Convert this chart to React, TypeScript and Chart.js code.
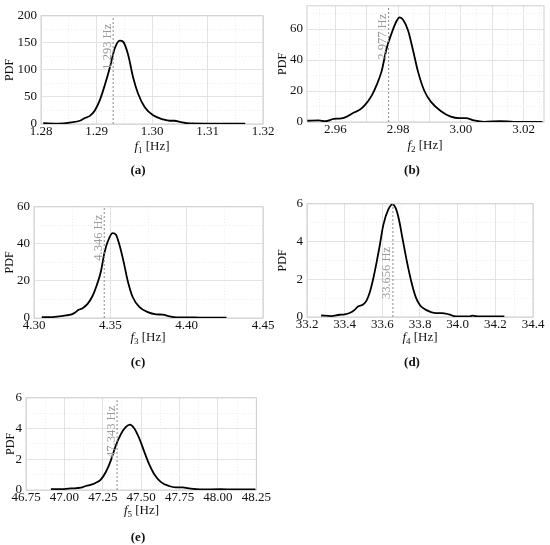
import React, { useEffect, useRef } from 'react';
import { Chart, registerables } from 'chart.js';

Chart.register(...registerables);

const FONT = "'Liberation Serif', 'Times New Roman', serif";

// ---------- (a) f1 ----------
const freqA = [1.2804, 1.2831, 1.2855, 1.287, 1.2879, 1.2888, 1.2897, 1.2906, 1.2915, 1.2924, 1.2933, 1.2942, 1.2948, 1.2957, 1.2966, 1.2975, 1.2987, 1.3002, 1.302, 1.3033, 1.3041, 1.305, 1.3068, 1.31, 1.3168];
const pdfA = [1.5, 0.8, 3, 6, 11, 15, 25, 44, 72, 104, 140, 154, 152, 128, 86, 56, 31, 16, 8.5, 6, 6, 4, 1, 0.8, 0.5];
const xLabelsA = ['1.28', '1.29', '1.30', '1.31', '1.32'];
const yLabelsA = ['0', '50', '100', '150', '200'];
const markerA = 1.293;

// ---------- (b) f2 ----------
const freqB = [2.9511, 2.9547, 2.9569, 2.9595, 2.962, 2.9637, 2.9658, 2.9679, 2.9695, 2.9716, 2.9732, 2.9748, 2.9763, 2.9779, 2.9795, 2.9805, 2.9816, 2.9832, 2.9847, 2.9863, 2.9884, 2.9905, 2.9937, 2.9968, 2.9995, 3.0016, 3.0042, 3.0074, 3.0126, 3.0168, 3.026];
const pdfB = [0.8, 1, 0.5, 2, 2.3, 3.5, 6, 8, 11, 17, 24, 33, 47, 57, 65, 67.5, 66, 59, 47, 33, 20, 13, 7, 3.5, 2.5, 2.5, 1, 0.1, 0.6, 0.1, 0];
const xLabelsB = ['2.96', '2.98', '3.00', '3.02'];
const yLabelsB = ['0', '20', '40', '60'];
const markerB = 2.977;

// ---------- (c) f3 ----------
const freqC = [4.3051, 4.312, 4.3164, 4.3208, 4.3241, 4.327, 4.3292, 4.3318, 4.3351, 4.3384, 4.341, 4.3439, 4.3461, 4.3482, 4.3515, 4.3537, 4.3559, 4.3586, 4.3614, 4.3647, 4.3691, 4.3745, 4.38, 4.3844, 4.3888, 4.3932, 4.402, 4.4086, 4.4261];
const pdfC = [0.5, 0.5, 0.9, 1.4, 1.8, 3, 4.4, 5.3, 7.6, 12, 17.4, 25.4, 35, 41, 45.8, 44.9, 39.6, 30.7, 20, 11.2, 5.9, 3.2, 2, 1.8, 0.9, 0.35, 0.35, 0.2, 0.2];
const xLabelsC = ['4.30', '4.35', '4.40', '4.45'];
const yLabelsC = ['0', '20', '40', '60'];
const markerC = 4.346;

// ---------- (d) f4 ----------
const freqD = [33.275, 33.328, 33.373, 33.4, 33.426, 33.453, 33.471, 33.498, 33.516, 33.533, 33.551, 33.569, 33.587, 33.605, 33.632, 33.653, 33.671, 33.689, 33.707, 33.73, 33.753, 33.778, 33.801, 33.837, 33.882, 33.917, 33.953, 33.989, 34.06, 34.078, 34.114, 34.248];
const pdfD = [0.08, 0.05, 0.12, 0.14, 0.21, 0.38, 0.56, 0.66, 0.87, 1.3, 2.0, 2.87, 3.83, 4.87, 5.7, 5.97, 5.77, 5.13, 4.17, 2.96, 1.91, 1.04, 0.61, 0.35, 0.21, 0.21, 0.14, 0.03, 0.03, 0.07, 0.03, 0.03];
const xLabelsD = ['33.2', '33.4', '33.6', '33.8', '34.0', '34.2', '34.4'];
const yLabelsD = ['0', '2', '4', '6'];
const markerD = 33.656;

// ---------- (e) f5 ----------
const freqE = [46.912, 46.999, 47.042, 47.107, 47.14, 47.18, 47.205, 47.237, 47.27, 47.302, 47.334, 47.367, 47.399, 47.427, 47.453, 47.486, 47.518, 47.551, 47.583, 47.627, 47.681, 47.724, 47.768, 47.821, 47.886, 48.016, 48.103, 48.244];
const pdfE = [0.06, 0.06, 0.1, 0.15, 0.26, 0.36, 0.47, 0.68, 1.17, 1.91, 2.87, 3.62, 4.09, 4.26, 4.04, 3.4, 2.55, 1.7, 1.06, 0.53, 0.26, 0.17, 0.17, 0.09, 0.04, 0.05, 0.04, 0.04];
const xLabelsE = ['46.75', '47.00', '47.25', '47.50', '47.75', '48.00', '48.25'];
const yLabelsE = ['0', '2', '4', '6'];
const markerE = 47.343;

type Panel = {
  key: string;
  sub: string;
  freq: number[];
  pdf: number[];
  marker: number;
  markerTop: boolean;
  xMin: number; xMax: number; xMajor: number; xMinor: number; xLabels: string[];
  yMax: number; yMajor: number; yMinor: number; yLabels: string[];
  box: { left: number; top: number; width: number; height: number; yW: number };
  title: { x: number; y: number };
  caption: { x: number; y: number };
};

const panels: Panel[] = [
  {
    key: 'a', sub: '1', freq: freqA, pdf: pdfA, marker: markerA, markerTop: true,
    xMin: 1.28, xMax: 1.32, xMajor: 0.01, xMinor: 0.005, xLabels: xLabelsA,
    yMax: 200, yMajor: 50, yMinor: 25, yLabels: yLabelsA,
    box: { left: 0, top: 4, width: 277, height: 140, yW: 41 },
    title: { x: 152, y: 146 }, caption: { x: 138, y: 170 },
  },
  {
    key: 'b', sub: '2', freq: freqB, pdf: pdfB, marker: markerB, markerTop: true,
    xMin: 2.951, xMax: 3.0265, xMajor: 0.01, xMinor: 0.005, xLabels: xLabelsB,
    yMax: 75, yMajor: 20, yMinor: 10, yLabels: yLabelsB,
    box: { left: 273, top: -6, width: 285, height: 148, yW: 34 },
    title: { x: 425, y: 145 }, caption: { x: 412, y: 170 },
  },
  {
    key: 'c', sub: '3', freq: freqC, pdf: pdfC, marker: markerC, markerTop: true,
    xMin: 4.3, xMax: 4.45, xMajor: 0.05, xMinor: 0.025, xLabels: xLabelsC,
    yMax: 60, yMajor: 20, yMinor: 10, yLabels: yLabelsC,
    box: { left: 0, top: 195, width: 277, height: 143, yW: 34 },
    title: { x: 148, y: 337 }, caption: { x: 138, y: 361.5 },
  },
  {
    key: 'd', sub: '4', freq: freqD, pdf: pdfD, marker: markerD, markerTop: false,
    xMin: 33.2, xMax: 34.4, xMajor: 0.2, xMinor: 0.1, xLabels: xLabelsD,
    yMax: 6, yMajor: 2, yMinor: 1, yLabels: yLabelsD,
    box: { left: 273, top: 192, width: 274, height: 145, yW: 34 },
    title: { x: 420, y: 337 }, caption: { x: 412, y: 361.5 },
  },
  {
    key: 'e', sub: '5', freq: freqE, pdf: pdfE, marker: markerE, markerTop: true,
    xMin: 46.75, xMax: 48.25, xMajor: 0.25, xMinor: 0.125, xLabels: xLabelsE,
    yMax: 6, yMajor: 2, yMinor: 1, yLabels: yLabelsE,
    box: { left: 1, top: 386, width: 270, height: 124, yW: 25 },
    title: { x: 141.5, y: 510 }, caption: { x: 138, y: 537 },
  },
];

function gridValues(min: number, max: number, step: number): number[] {
  const out: number[] = [];
  const k0 = Math.ceil(min / step - 1e-7);
  const k1 = Math.floor(max / step + 1e-7);
  for (let k = k0; k <= k1; k++) out.push(Math.round(k * step * 1e9) / 1e9);
  return out;
}

function isMultiple(v: number, step: number): boolean {
  const r = v / step;
  return Math.abs(r - Math.round(r)) < 1e-6;
}

function labelFor(v: number, labels: string[], tol: number): string {
  const hit = labels.find((l) => Math.abs(parseFloat(l) - v) < tol);
  return hit === undefined ? '' : hit;
}

const framePlugin = {
  id: 'frame',
  beforeDatasetsDraw(chart: any) {
    const { ctx, chartArea } = chart;
    ctx.save();
    ctx.strokeStyle = '#cfcfcf';
    ctx.lineWidth = 1;
    ctx.strokeRect(chartArea.left, chartArea.top, chartArea.right - chartArea.left, chartArea.bottom - chartArea.top);
    ctx.restore();
  },
};

const markerLabelPlugin = {
  id: 'markerLabel',
  afterDatasetsDraw(chart: any, _args: any, opts: any) {
    const { ctx, chartArea, scales } = chart;
    const x = scales.x.getPixelForValue(opts.value);
    ctx.save();
    ctx.translate(x - 2.5, opts.top ? chartArea.top + 8 : chartArea.bottom - 18);
    ctx.rotate(-Math.PI / 2);
    ctx.textAlign = opts.top ? 'right' : 'left';
    ctx.textBaseline = 'alphabetic';
    ctx.fillStyle = '#9a9a9a';
    ctx.font = `12.5px ${FONT}`;
    ctx.fillText(opts.text, 0, 0);
    ctx.restore();
  },
};

function PanelChart({ p }: { p: Panel }) {
  const ref = useRef<HTMLCanvasElement>(null);
  useEffect(() => {
    const curve = p.freq.map((f, i) => ({ x: f, y: p.pdf[i] }));
    const mline = [{ x: p.marker, y: 0 }, { x: p.marker, y: p.yMax }];
    const chart = new Chart(ref.current as HTMLCanvasElement, {
      type: 'line',
      data: {
        datasets: [
          {
            data: mline,
            borderColor: '#8a8a8a',
            borderWidth: 1,
            borderDash: [2, 2],
            pointRadius: 0,
            fill: false,
          },
          {
            data: curve,
            borderColor: '#000',
            borderWidth: 1.8,
            pointRadius: 0,
            fill: false,
            cubicInterpolationMode: 'monotone',
          },
        ],
      },
      plugins: [framePlugin, markerLabelPlugin],
      options: {
        animation: false,
        responsive: true,
        maintainAspectRatio: false,
        events: [],
        layout: { padding: { left: 0, top: 10, right: 14, bottom: 0 } },
        plugins: {
          legend: { display: false },
          tooltip: { enabled: false },
          markerLabel: { value: p.marker, text: `${p.marker.toFixed(3)} Hz`, top: p.markerTop },
        } as any,
        scales: {
          x: {
            type: 'linear',
            min: p.xMin,
            max: p.xMax,
            afterBuildTicks: (s: any) => {
              s.ticks = gridValues(p.xMin, p.xMax, p.xMinor).map((v) => ({ value: v }));
            },
            afterFit: (s: any) => {
              s.height = 20;
            },
            ticks: {
              autoSkip: false,
              maxRotation: 0,
              minRotation: 0,
              padding: 0,
              color: '#111',
              font: { family: FONT, size: 13 },
              callback: (v: any) => labelFor(Number(v), p.xLabels, p.xMinor / 100),
            },
            grid: {
              drawTicks: false,
              lineWidth: 1,
              color: (c: any) => (c.tick && isMultiple(c.tick.value, p.xMajor) ? '#e3e3e3' : '#ededed'),
            },
            border: {
              display: false,
              dash: (c: any) => (c.tick && isMultiple(c.tick.value, p.xMajor) ? [] : [1, 2]),
            },
          },
          y: {
            type: 'linear',
            min: 0,
            max: p.yMax,
            afterBuildTicks: (s: any) => {
              s.ticks = gridValues(0, p.yMax, p.yMinor).map((v) => ({ value: v }));
            },
            afterFit: (s: any) => {
              s.width = p.box.yW;
            },
            ticks: {
              autoSkip: false,
              padding: 4,
              color: '#111',
              font: { family: FONT, size: 13 },
              callback: (v: any) => labelFor(Number(v), p.yLabels, p.yMinor / 100),
            },
            grid: {
              drawTicks: false,
              lineWidth: 1,
              color: (c: any) => (c.tick && isMultiple(c.tick.value, p.yMajor) ? '#e3e3e3' : '#ededed'),
            },
            border: {
              display: false,
              dash: (c: any) => (c.tick && isMultiple(c.tick.value, p.yMajor) ? [] : [1, 2]),
            },
            title: {
              display: true,
              text: 'PDF',
              color: '#111',
              font: { family: FONT, size: 12 },
              padding: { top: 3, bottom: 0 },
            },
          },
        },
      } as any,
    });
    return () => chart.destroy();
  }, [p]);

  return (
    <div
      style={{
        position: 'absolute',
        left: p.box.left,
        top: p.box.top,
        width: p.box.width,
        height: p.box.height,
      }}
    >
      <canvas ref={ref} />
    </div>
  );
}

export default function App() {
  return (
    <div
      style={{
        position: 'absolute',
        left: 0,
        top: 0,
        width: 550,
        height: 545,
        overflow: 'hidden',
        background: '#fff',
        fontFamily: FONT,
        color: '#111',
      }}
    >
      {panels.map((p) => (
        <React.Fragment key={p.key}>
          <PanelChart p={p} />
          <div
            style={{
              position: 'absolute',
              left: p.title.x,
              top: p.title.y,
              transform: 'translate(-50%, -50%)',
              fontSize: 13,
              whiteSpace: 'nowrap',
              lineHeight: '16px',
            }}
          >
            <i>f</i>
            <span style={{ fontSize: 9, position: 'relative', top: 3 }}>{p.sub}</span> [Hz]
          </div>
          <div
            style={{
              position: 'absolute',
              left: p.caption.x,
              top: p.caption.y,
              transform: 'translate(-50%, -50%)',
              fontSize: 13,
              fontWeight: 'bold',
              whiteSpace: 'nowrap',
              lineHeight: '16px',
            }}
          >
            ({p.key})
          </div>
        </React.Fragment>
      ))}
    </div>
  );
}
